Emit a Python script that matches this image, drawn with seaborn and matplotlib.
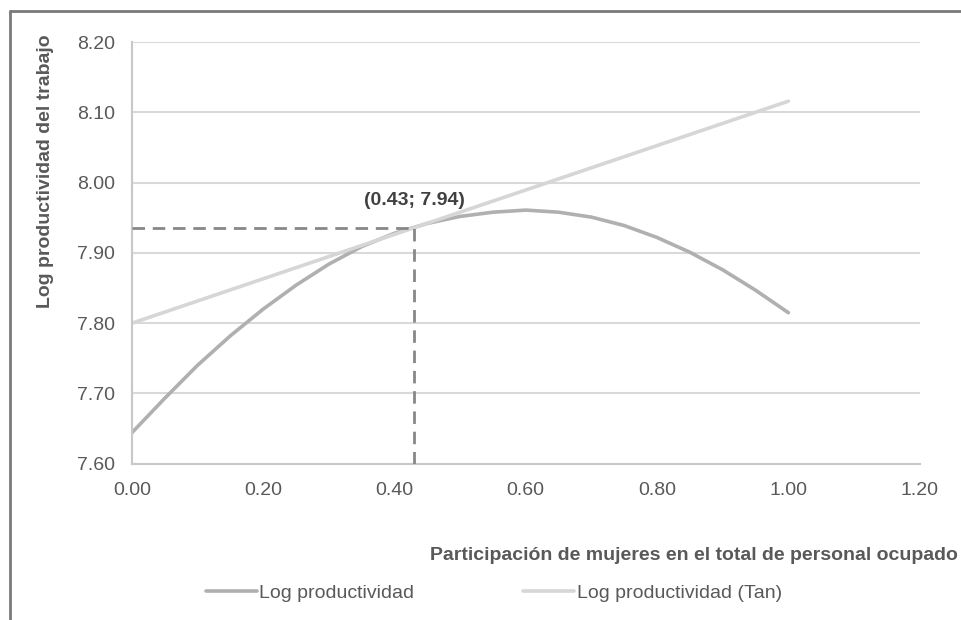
import matplotlib
matplotlib.use('Agg')
import matplotlib.pyplot as plt
import pandas as pd
import seaborn as sns

# participation of women (x) and log productivity
share = [0.00, 0.05, 0.10, 0.15, 0.20, 0.25, 0.30, 0.35, 0.40, 0.45, 0.50,
         0.55, 0.60, 0.65, 0.70, 0.75, 0.80, 0.85, 0.90, 0.95, 1.00]
log_prod = [7.644, 7.693, 7.740, 7.782, 7.820, 7.854, 7.884, 7.909, 7.928, 7.942, 7.952,
            7.958, 7.961, 7.958, 7.951, 7.939, 7.922, 7.901, 7.876, 7.847, 7.815]
tan_share = [0.00, 1.00]
tan_prod = [7.800, 8.116]
touch_x = 0.43
touch_y = 7.936
touch_label = '(0.43; 7.94)'
x_ticks = [0, 0.2, 0.4, 0.6, 0.8, 1.0, 1.2]
y_ticks = [7.6, 7.7, 7.8, 7.9, 8.0, 8.1, 8.2]

curve_df = pd.DataFrame({'x': share, 'y': log_prod, 'serie': 'Log productividad'})
tan_df = pd.DataFrame({'x': tan_share, 'y': tan_prod, 'serie': 'Log productividad (Tan)'})
df = pd.concat([curve_df, tan_df], ignore_index=True)

sns.set_style('white')
plt.rcParams['font.family'] = ['Liberation Sans', 'DejaVu Sans']

fig = plt.figure(figsize=(9.62, 6.2), dpi=100)
ax = fig.add_axes([0.137, 0.252, 0.819, 0.680])

sns.lineplot(data=df, x='x', y='y', hue='serie',
             palette={'Log productividad': '#b0b0b0', 'Log productividad (Tan)': '#d6d6d6'},
             linewidth=2.6, ax=ax, legend=False, sort=False)

# dashed guide lines to the tangency point
ax.plot([0, touch_x], [touch_y, touch_y], color='#878787', lw=2, dashes=(4.5, 2.8), zorder=3)
ax.plot([touch_x, touch_x], [y_ticks[0], touch_y], color='#878787', lw=2, dashes=(4.5, 2.8), zorder=3)
ax.text(touch_x, touch_y + 0.027, touch_label, ha='center', va='bottom',
        fontsize=14, fontweight='bold', color='#404040')

ax.set_xlim(x_ticks[0], x_ticks[-1])
ax.set_ylim(y_ticks[0], y_ticks[-1])
ax.set_xticks(x_ticks)
ax.set_yticks(y_ticks)
ax.set_xticklabels([f'{v:.2f}' for v in x_ticks])
ax.set_yticklabels([f'{v:.2f}' for v in y_ticks])
ax.tick_params(axis='both', length=0, labelsize=14, labelcolor='#595959')
ax.tick_params(axis='x', pad=13)
ax.tick_params(axis='y', pad=12)
ax.yaxis.grid(True, color='#d9d9d9', lw=1.5)
ax.set_axisbelow(True)
for s in ['top', 'right']:
    ax.spines[s].set_visible(False)
for s in ['left', 'bottom']:
    ax.spines[s].set_color('#c8c8c8')
    ax.spines[s].set_linewidth(1.5)

ax.set_xlabel('')
ax.set_ylabel('Log productividad del trabajo', fontsize=14, fontweight='bold',
              color='#595959', va='center')
ax.yaxis.set_label_coords(-0.11, 0.694)
fig.text(958 / 962, 1 - 555 / 620, 'Participación de mujeres en el total de personal ocupado',
         ha='right', va='center', fontsize=14, fontweight='bold', color='#595959')

handles = [plt.Line2D([], [], color='#b0b0b0', lw=2.6),
           plt.Line2D([], [], color='#d6d6d6', lw=2.6)]
fig.legend(handles, ['Log productividad', 'Log productividad (Tan)'], loc='center',
           bbox_to_anchor=(494 / 962, 1 - 593 / 620), ncol=2, frameon=False,
           fontsize=14, labelcolor='#595959', handlelength=2.6, handletextpad=0.15,
           columnspacing=5.6)

# outer frame: only top and left edges are inside the picture
fl = 10 / 962
ft = 1 - 11 / 620
fig.add_artist(plt.Line2D([fl, 1.0], [ft, ft], transform=fig.transFigure,
                          color='#7a7a7a', lw=2))
fig.add_artist(plt.Line2D([fl, fl], [0.0, ft], transform=fig.transFigure,
                          color='#7a7a7a', lw=2))

fig.savefig('out.png', dpi=100)
